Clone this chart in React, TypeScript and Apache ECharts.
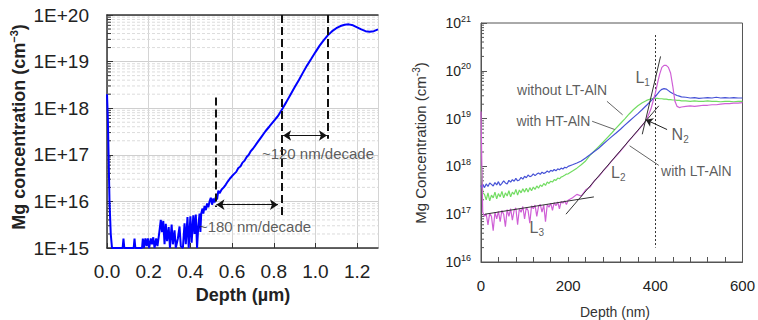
import { useEffect, useRef } from 'react';
import * as echarts from 'echarts';

const FONT = "'Liberation Sans', Arial, Helvetica, sans-serif";

// ---------------- Left panel: SIMS profile, depth in µm ----------------
const LEFT_X_MAX = 1.3;
const leftDepth = [
  0.0, 0.004, 0.008, 0.012, 0.018, 0.024, 0.075, 0.079, 0.083, 0.128, 0.132, 0.136,
  0.168, 0.172, 0.177, 0.184, 0.19, 0.196, 0.202, 0.21, 0.216, 0.222, 0.228, 0.236,
  0.242, 0.25, 0.258, 0.264, 0.27, 0.276, 0.282, 0.288, 0.296, 0.302, 0.31, 0.316,
  0.324, 0.33, 0.34, 0.348, 0.354, 0.364, 0.372, 0.378, 0.386, 0.392, 0.4, 0.406,
  0.414, 0.42, 0.426, 0.432, 0.438, 0.444, 0.448, 0.452, 0.458, 0.462, 0.468, 0.474,
  0.48, 0.486, 0.492, 0.498, 0.504, 0.51, 0.516, 0.522, 0.528, 0.534, 0.54, 0.55,
  0.56, 0.57, 0.58, 0.59, 0.6, 0.61, 0.62, 0.63, 0.64, 0.65, 0.66, 0.67, 0.68, 0.69,
  0.7, 0.72, 0.74, 0.76, 0.78, 0.8, 0.82, 0.84, 0.86, 0.88, 0.9, 0.92, 0.94, 0.96,
  0.98, 1.0, 1.02, 1.04, 1.06, 1.08, 1.1, 1.12, 1.14, 1.16, 1.18, 1.2, 1.22, 1.24,
  1.26, 1.28, 1.3,
];
const leftConc = [
  2.0e18, 6e17, 8e16, 1e16, 2e15, 1e15, 1e15, 1.6e15, 1e15, 1e15, 1.6e15, 1e15,
  1e15, 1.6e15, 1e15, 1.6e15, 1.1e15, 1.6e15, 1e15, 1.6e15, 1.2e15, 1.7e15, 1e15, 1.6e15,
  1.1e15, 2e15, 4e15, 2.2e15, 3.8e15, 1.2e15, 3.3e15, 1.4e15, 2.8e15, 1e15, 3.2e15, 1.2e15,
  2.4e15, 1e15, 1.6e15, 2.9e15, 1.1e15, 1e15, 3.4e15, 1.2e15, 4.6e15, 1e15, 4.8e15, 1.3e15,
  5e15, 2e15, 5.2e15, 1e15, 3e15, 5.5e15, 2.2e15, 5.5e15, 7e15, 5.5e15, 8e15, 6.5e15,
  9e15, 7.5e15, 1e16, 1.2e16, 8.5e15, 1.15e16, 9.5e15, 1.25e16, 1.1e16, 1.7e16, 1.5e16, 1.8e16,
  2.0e16, 2.3e16, 2.7e16, 3.1e16, 3.5e16, 3.9e16, 4.3e16, 5.2e16, 5.6e16, 6.8e16, 7.5e16, 9e16, 1.0e17, 1.2e17,
  1.35e17, 1.8e17, 2.4e17, 3.2e17, 4.1e17, 5.3e17, 6.8e17, 9.5e17, 1.35e18, 1.95e18, 2.8e18, 4.0e18, 5.8e18, 8.3e18,
  1.15e19, 1.6e19, 2.2e19, 2.9e19, 3.7e19, 4.5e19, 5.2e19, 5.8e19, 6.2e19, 6.3e19, 6.0e19, 5.4e19, 4.9e19, 4.5e19,
  4.35e19, 4.5e19, 4.9e19,
];
const leftDashedLines = [
  [[0.52, 1.7e18], [0.52, 7.6e15]],
  [[0.84, 1e20], [0.84, 4.6e15]],
  [[1.06, 1e20], [1.06, 2.2e17]],
];
const leftArrows = [
  [[0.525, 8.5e15], [0.82, 8.5e15]],
  [[0.845, 2.6e17], [1.055, 2.6e17]],
];
const leftNotes = [
  { text: '~120 nm/decade', at: [1.012, 1.07e17] },
  { text: '~180 nm/decade', at: [0.71, 2.9e15] },
];

// ---------------- Right panel: depth in nm ----------------
const rDepth = [
  0, 2, 4,
  8, 12, 16, 20, 24, 28, 32, 36, 40, 44, 48, 52, 56, 60, 64, 68, 72, 76, 80, 84, 88, 92, 96, 100,
  104, 108, 112, 116, 120, 124, 128, 132, 136, 140, 144, 148, 152, 156, 160, 164, 168, 172, 176, 180,
  184, 188, 192, 196, 200,
  210, 220, 230, 240, 250, 260, 270, 280, 290, 300, 310, 320, 330, 340, 350, 360, 370, 380, 390, 400,
  405, 410, 415, 420, 425, 430, 435, 440, 445, 450, 455, 460,
  470, 480, 490, 500, 510, 520, 530, 540, 550, 560, 570, 580, 590, 600,
];
const withoutLT = [
  4e17, 3.5e17, 4.2e17,
  3.6e17, 4.3e17, 3.8e17, 4.5e17, 4.2e17, 3.9e17, 4.6e17, 4.1e17, 4.8e17, 4.0e17,
  4.4e17, 5.0e17, 4.5e17, 4.3e17, 5.1e17, 4.7e17, 5.3e17, 4.9e17, 5.6e17, 5.0e17,
  5.2e17, 5.9e17, 5.4e17, 6.2e17, 5.8e17, 6.6e17, 6.1e17, 6.3e17, 7.0e17, 6.4e17,
  6.9e17, 7.3e17, 6.8e17, 7.6e17, 7.1e17, 7.4e17, 8.0e17, 7.5e17, 8.3e17, 7.9e17,
  8.6e17, 8.1e17, 8.9e17, 8.5e17, 9.2e17, 8.8e17, 9.6e17, 9.3e17, 1.0e18,
  1.08e18, 1.18e18, 1.3e18, 1.5e18, 1.75e18, 2.05e18, 2.4e18, 2.9e18, 3.5e18, 4.2e18,
  5.0e18, 6.0e18, 7.3e18, 8.8e18, 1.06e19, 1.27e19, 1.55e19, 1.9e19, 2.35e19, 2.9e19,
  3.3e19, 3.75e19, 4.1e19, 4.25e19, 4.15e19, 3.85e19, 3.55e19, 3.35e19, 3.2e19, 3.05e19, 2.95e19, 2.85e19,
  2.8e19, 2.7e19, 2.75e19, 2.65e19, 2.7e19, 2.75e19, 2.7e19, 2.8e19, 2.7e19, 2.75e19, 2.7e19, 2.75e19, 2.7e19, 2.7e19,
];
const withHT = [
  1e18, 6e17, 2.8e17,
  2.6e17, 2.0e17, 2.8e17, 1.9e17, 2.5e17, 2.2e17, 2.9e17, 2.1e17, 2.7e17, 2.3e17,
  3.0e17, 2.2e17, 2.8e17, 2.4e17, 3.1e17, 2.3e17, 2.9e17, 2.6e17, 3.3e17, 2.5e17,
  3.2e17, 2.8e17, 3.4e17, 2.9e17, 3.5e17, 2.9e17, 3.6e17, 3.1e17, 3.7e17, 3.3e17,
  3.9e17, 3.5e17, 4.1e17, 3.8e17, 4.4e17, 4.0e17, 4.7e17, 4.4e17, 4.9e17, 4.7e17,
  5.3e17, 5.1e17, 5.7e17, 5.5e17, 6.0e17, 6.2e17, 6.5e17, 6.9e17, 7.0e17,
  8.0e17, 9.2e17, 1.08e18, 1.3e18, 1.7e18, 2.1e18, 2.6e18, 3.2e18, 4.0e18, 5.0e18,
  6.3e18, 7.9e18, 9.9e18, 1.25e19, 1.55e19, 1.85e19, 2.15e19, 2.4e19, 2.6e19, 2.65e19,
  2.65e19, 2.6e19, 2.6e19, 2.55e19, 2.55e19, 2.5e19, 2.5e19, 2.45e19, 2.45e19, 2.4e19, 2.4e19, 2.35e19,
  2.35e19, 2.3e19, 2.35e19, 2.3e19, 2.3e19, 2.35e19, 2.3e19, 2.3e19, 2.25e19, 2.3e19, 2.3e19, 2.25e19, 2.3e19, 2.3e19,
];
const withLT = [
  1.4e19, 1e18, 1.1e17,
  9e16, 1.0e17, 6e16, 1.05e17, 9e16, 4.5e16, 1.1e17, 8e16, 1.15e17, 7e16,
  1.2e17, 1.0e17, 5.5e16, 1.25e17, 9e16, 1.3e17, 7.5e16, 1.2e17, 1.35e17, 6e16,
  1.3e17, 1.1e17, 1.45e17, 8e16, 1.4e17, 1.2e17, 6.5e16, 1.5e17, 1.3e17, 1.55e17,
  9e16, 1.45e17, 1.6e17, 1.1e17, 1.55e17, 7e16, 1.6e17, 1.4e17, 1.7e17, 1.2e17,
  1.75e17, 1.5e17, 1.8e17, 1.3e17, 1.85e17, 1.7e17, 1.9e17, 1.6e17, 1.95e17,
  2.2e17, 2.6e17, 2.4e17, 3.2e17, 3.7e17, 5.0e17, 6.1e17, 8.0e17, 1.0e18, 1.3e18,
  1.65e18, 2.1e18, 2.7e18, 3.5e18, 4.4e18, 5.6e18, 7.2e18, 9.5e18, 1.6e19, 3.4e19,
  5.5e19, 8.5e19, 1.18e20, 1.3e20, 1.3e20, 1.18e20, 9e19, 4.8e19, 2.3e19, 1.8e19, 1.7e19, 1.75e19,
  1.8e19, 1.85e19, 1.8e19, 1.85e19, 1.9e19, 1.9e19, 1.95e19, 1.95e19, 2.0e19, 2.05e19, 2.05e19, 2.1e19, 2.1e19, 2.15e19,
];
const fitLines = [
  [[370, 4.7e18], [412, 2.0e20]], // L1
  [[195, 1e17], [408, 1.85e19]], // L2
  [[9, 1e17], [259, 2.3e17]], // L3
];
const leaderLines = [
  [[289, 2.3e19], [325, 1.2e19]],
  [[255, 8.8e18], [307, 5.9e18]],
  [[341, 2.7e18], [408, 1.05e18]],
];
const n2Arrow = [[[427, 5.9e18], [378, 9.5e18]]];
const interfaceLine = [[[400, 5.6e20], [400, 2e16]]];
const rightNotes = [
  { main: 'L', sub: '1', at: [371, 7.1e19] },
  { main: 'without LT-AlN', sub: '', at: [186, 4e19] },
  { main: 'with HT-AlN', sub: '', at: [166, 9.1e18] },
  { main: 'N', sub: '2', at: [457, 4.6e18] },
  { main: 'with LT-AlN', sub: '', at: [494, 7.9e17] },
  { main: 'L', sub: '2', at: [315, 7.4e17] },
  { main: 'L', sub: '3', at: [128, 5.3e16] },
];

function minorLogValues(fromExp: number, toExp: number) {
  const out: number[] = [];
  for (let e = fromExp; e < toExp; e++) {
    for (let k = 2; k <= 9; k++) out.push(k * Math.pow(10, e));
  }
  return out;
}

function buildOption() {
  const leftMinor = minorLogValues(15, 20);
  const rightMinor = minorLogValues(16, 21);
  const pair = (xs: number[], ys: number[]) => xs.map((x, i) => [x, ys[i]]);
  const noteRich = {
    m: { fontSize: 14, color: '#333', fontFamily: FONT, lineHeight: 18 },
    l: { fontSize: 16, color: '#333', fontFamily: FONT, lineHeight: 20 },
    sub: { fontSize: 10, color: '#333', fontFamily: FONT, verticalAlign: 'bottom', lineHeight: 11 },
  };

  return {
    animation: false,
    backgroundColor: '#ffffff',
    grid: [
      { left: 107, top: 15, right: 380, bottom: 72, show: false },
      { left: 481, top: 23, right: 10, bottom: 58, show: true, borderColor: '#555', borderWidth: 1, backgroundColor: 'transparent' },
    ],
    xAxis: [
      {
        gridIndex: 0, type: 'value', min: 0, max: LEFT_X_MAX, interval: 0.2, position: 'bottom',
        axisLine: { show: true, onZero: false, lineStyle: { color: '#333', width: 1.5 } },
        axisTick: { show: true, inside: true, length: 5, lineStyle: { color: '#333' } },
        axisLabel: { fontSize: 19, color: '#222', margin: 14, fontFamily: FONT, showMaxLabel: false, formatter: (v: number) => v.toFixed(1) },
        splitLine: { show: true, lineStyle: { color: '#d4d4d4', width: 1 } },
      },
      {
        gridIndex: 0, type: 'value', min: 0, max: LEFT_X_MAX, position: 'top',
        axisLine: { show: true, onZero: false, lineStyle: { color: '#333', width: 1.5 } },
        axisTick: { show: false }, axisLabel: { show: false }, splitLine: { show: false },
      },
      {
        gridIndex: 1, type: 'value', min: 0, max: 600, interval: 200,
        axisLine: { show: true, onZero: false, lineStyle: { color: '#555', width: 1 } },
        axisTick: { show: true, inside: true, length: 5, lineStyle: { color: '#555' } },
        minorTick: { show: true, splitNumber: 5, length: 5, lineStyle: { color: '#555' } },
        axisLabel: { fontSize: 15, color: '#222', margin: 16, fontFamily: FONT },
        splitLine: { show: false },
      },
    ],
    yAxis: [
      {
        gridIndex: 0, type: 'log', logBase: 10, min: 1e15, max: 1e20,
        axisLine: { show: true, onZero: false, lineStyle: { color: '#333', width: 1.5 } },
        axisTick: { show: true, inside: true, length: 6, lineStyle: { color: '#333' } },
        axisLabel: { fontSize: 19, color: '#222', margin: 18, fontFamily: FONT, formatter: (v: number) => '1E+' + Math.round(Math.log10(v)) },
        splitLine: { show: true, lineStyle: { color: '#cfcfcf', width: 1 } },
      },
      {
        gridIndex: 1, type: 'log', logBase: 10, min: 1e16, max: 1e21,
        axisLine: { show: true, onZero: false, lineStyle: { color: '#555', width: 1 } },
        axisTick: { show: true, inside: true, length: 6, lineStyle: { color: '#555' } },
        axisLabel: {
          margin: 10,
          formatter: (v: number) => '{b|10}{s|' + Math.round(Math.log10(v)) + '}',
          rich: {
            b: { fontSize: 14, color: '#222', fontFamily: FONT, lineHeight: 18 },
            s: { fontSize: 9, color: '#222', fontFamily: FONT, verticalAlign: 'top', lineHeight: 10 },
          },
        },
        splitLine: { show: false },
      },
    ],
    graphic: [
      {
        type: 'text', x: 19, y: 127, rotation: Math.PI / 2, silent: true,
        style: {
          text: '{a|Mg concentration (cm}{s|−3}{a|)}', align: 'center', verticalAlign: 'middle',
          rich: {
            a: { fontSize: 18, fontWeight: 'bold', fill: '#222', fontFamily: FONT, lineHeight: 22 },
            s: { fontSize: 11, fontWeight: 'bold', fill: '#222', fontFamily: FONT, verticalAlign: 'top', lineHeight: 12 },
          },
        },
      },
      {
        type: 'text', x: 243, y: 295, silent: true,
        style: { text: 'Depth (µm)', fontSize: 18, fontWeight: 'bold', fill: '#222', fontFamily: FONT, align: 'center', verticalAlign: 'middle' },
      },
      {
        type: 'text', x: 420, y: 143, rotation: Math.PI / 2, silent: true,
        style: {
          text: '{a|Mg Concentration (cm}{s|-3}{a|)}', align: 'center', verticalAlign: 'middle',
          rich: {
            a: { fontSize: 15, fill: '#333', fontFamily: FONT, lineHeight: 18 },
            s: { fontSize: 10, fill: '#333', fontFamily: FONT, verticalAlign: 'top', lineHeight: 11 },
          },
        },
      },
      {
        type: 'text', x: 615, y: 312, silent: true,
        style: { text: 'Depth (nm)', fontSize: 14, fill: '#333', fontFamily: FONT, align: 'center', verticalAlign: 'middle' },
      },
    ],
    series: [
      // left minor grid lines + minor ticks
      {
        type: 'custom', xAxisIndex: 0, yAxisIndex: 0, silent: true, z: 1,
        data: leftMinor.map((v) => [0, v]), encode: { x: 0, y: 1 },
        renderItem: (_p: any, api: any) => {
          const v = api.value(1);
          const a = api.coord([0, v]);
          const b = api.coord([LEFT_X_MAX, v]);
          return {
            type: 'group',
            children: [
              { type: 'line', shape: { x1: a[0], y1: a[1], x2: b[0], y2: b[1] }, style: { stroke: '#dcdcdc', lineWidth: 1, lineDash: [3, 2] } },
              { type: 'line', shape: { x1: a[0], y1: a[1], x2: a[0] + 4, y2: a[1] }, style: { stroke: '#333', lineWidth: 1 } },
            ],
          };
        },
      },
      {
        type: 'line', name: 'Mg', xAxisIndex: 0, yAxisIndex: 0, z: 3,
        data: pair(leftDepth, leftConc), showSymbol: false, symbol: 'none',
        lineStyle: { color: '#0000ff', width: 2 }, silent: true,
      },
      {
        type: 'lines', coordinateSystem: 'cartesian2d', xAxisIndex: 0, yAxisIndex: 0, silent: true, z: 4,
        symbol: 'none', lineStyle: { color: '#111', width: 2, type: [8, 4], opacity: 1, curveness: 0 },
        data: leftDashedLines.map((c) => ({ coords: c })),
      },
      {
        type: 'lines', coordinateSystem: 'cartesian2d', xAxisIndex: 0, yAxisIndex: 0, silent: true, z: 4,
        symbol: ['arrow', 'arrow'], symbolSize: 8, lineStyle: { color: '#111', width: 1, opacity: 1, curveness: 0 },
        data: leftArrows.map((c) => ({ coords: c })),
      },
      {
        type: 'scatter', xAxisIndex: 0, yAxisIndex: 0, silent: true, symbolSize: 0, z: 5,
        data: leftNotes.map((n) => ({ value: n.at, name: n.text })),
        label: { show: true, position: 'inside', formatter: (p: any) => p.name, fontSize: 15, color: '#333', fontFamily: FONT },
      },
      // right panel minor ticks
      {
        type: 'custom', xAxisIndex: 2, yAxisIndex: 1, silent: true, z: 1,
        data: rightMinor.map((v) => [0, v]), encode: { x: 0, y: 1 },
        renderItem: (_p: any, api: any) => {
          const a = api.coord([0, api.value(1)]);
          return { type: 'line', shape: { x1: a[0], y1: a[1], x2: a[0] + 3, y2: a[1] }, style: { stroke: '#555', lineWidth: 1 } };
        },
      },
      {
        type: 'lines', coordinateSystem: 'cartesian2d', xAxisIndex: 2, yAxisIndex: 1, silent: true, z: 2,
        symbol: 'none', lineStyle: { color: '#333', width: 1, type: [2, 2], opacity: 1, curveness: 0 },
        data: interfaceLine.map((c) => ({ coords: c })),
      },
      {
        type: 'line', name: 'with HT-AlN', xAxisIndex: 2, yAxisIndex: 1, z: 3,
        data: pair(rDepth, withHT), showSymbol: false, symbol: 'none', silent: true,
        lineStyle: { color: '#72dc62', width: 1.2 },
      },
      {
        type: 'line', name: 'without LT-AlN', xAxisIndex: 2, yAxisIndex: 1, z: 3,
        data: pair(rDepth, withoutLT), showSymbol: false, symbol: 'none', silent: true,
        lineStyle: { color: '#4652d6', width: 1.2 },
      },
      {
        type: 'line', name: 'with LT-AlN', xAxisIndex: 2, yAxisIndex: 1, z: 3,
        data: pair(rDepth, withLT), showSymbol: false, symbol: 'none', silent: true,
        lineStyle: { color: '#cf5fd6', width: 1.2 },
      },
      {
        type: 'lines', coordinateSystem: 'cartesian2d', xAxisIndex: 2, yAxisIndex: 1, silent: true, z: 4,
        symbol: 'none', lineStyle: { color: '#333', width: 1, opacity: 1, curveness: 0 },
        data: fitLines.map((c) => ({ coords: c })),
      },
      {
        type: 'lines', coordinateSystem: 'cartesian2d', xAxisIndex: 2, yAxisIndex: 1, silent: true, z: 4,
        symbol: 'none', lineStyle: { color: '#666', width: 1, opacity: 1, curveness: 0 },
        data: leaderLines.map((c) => ({ coords: c })),
      },
      {
        type: 'lines', coordinateSystem: 'cartesian2d', xAxisIndex: 2, yAxisIndex: 1, silent: true, z: 4,
        symbol: ['none', 'arrow'], symbolSize: 7, lineStyle: { color: '#222', width: 1, opacity: 1, curveness: 0 },
        data: n2Arrow.map((c) => ({ coords: c })),
      },
      {
        type: 'scatter', xAxisIndex: 2, yAxisIndex: 1, silent: true, symbolSize: 0, z: 5,
        data: rightNotes.map((n) => ({ value: n.at, name: n.sub ? '{l|' + n.main + '}{sub|' + n.sub + '}' : '{m|' + n.main + '}' })),
        label: { show: true, position: 'inside', formatter: (p: any) => p.name, rich: noteRich },
      },
    ],
  };
}

export default function App() {
  const ref = useRef<HTMLDivElement>(null);
  useEffect(() => {
    const chart = echarts.init(ref.current as HTMLDivElement, null, { renderer: 'svg' });
    chart.setOption(buildOption() as any);
    return () => chart.dispose();
  }, []);
  return (
    <div
      ref={ref}
      style={{ position: 'absolute', left: 0, top: 0, width: 758, height: 320, background: '#fff' }}
    />
  );
}
